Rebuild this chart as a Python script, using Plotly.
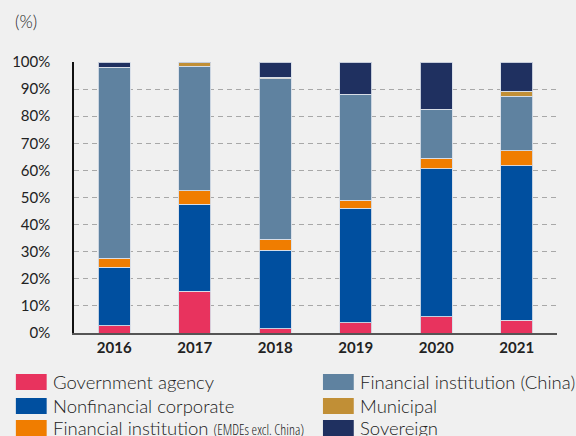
import plotly.graph_objects as go

years = ["2016", "2017", "2018", "2019", "2020", "2021"]
gov_agency = [2.7, 15.5, 1.6, 3.8, 6.0, 4.7]
nonfin_corp = [21.6, 32.0, 28.9, 42.3, 54.7, 57.0]
fi_emde = [3.3, 5.0, 4.1, 2.9, 3.8, 5.5]
fi_china = [70.2, 46.0, 59.2, 38.9, 17.9, 20.1]
municipal = [0.3, 1.2, 0.5, 0.2, 0.2, 2.0]
sovereign = [1.9, 0.3, 5.7, 11.9, 17.4, 10.7]
y_ticks = [0, 10, 20, 30, 40, 50, 60, 70, 80, 90, 100]
y_tick_labels = [f"{v}%" for v in y_ticks]

series = [
    ("Government agency", gov_agency, "#E8335E"),
    ("Nonfinancial corporate", nonfin_corp, "#004F9F"),
    ("Financial institution (EMDEs excl. China)", fi_emde, "#F07D00"),
    ("Financial institution (China)", fi_china, "#5F82A0"),
    ("Municipal", municipal, "#C18F36"),
    ("Sovereign", sovereign, "#1F3060"),
]

FONT = "Lato"
fig = go.Figure()
for name, vals, col in series:
    fig.add_trace(go.Bar(
        x=years, y=vals, name=name, marker_color=col,
        marker_line=dict(color="rgba(215,222,232,0.9)", width=1),
        showlegend=False,
    ))

fig.update_layout(
    barmode="stack", bargap=0.6,
    width=576, height=436,
    margin=dict(l=71.5, r=18.5, t=62, b=103),
    paper_bgcolor="#F0F0F0", plot_bgcolor="#F0F0F0",
    font=dict(family=FONT, color="#222222"),
    xaxis=dict(
        showline=True, linecolor="#555555", linewidth=2,
        tickfont=dict(size=15, color="#222222", weight="bold"),
        ticks="", showgrid=False, range=[-0.5, 5.5],
    ),
    yaxis=dict(
        range=[0, 100], tickvals=y_ticks, ticktext=y_tick_labels,
        showline=True, linecolor="#111111", linewidth=1.5,
        showgrid=True, gridcolor="#A8A8A8", griddash="5px,4px", gridwidth=1,
        zeroline=False, ticks="", ticklabelstandoff=19,
        tickfont=dict(size=15, color="#222222"),
    ),
)

fig.add_annotation(
    text="(%)", xref="paper", yref="paper", x=-61/486, y=1 + 41/271,
    xanchor="left", yanchor="middle", showarrow=False,
    font=dict(size=17, color="#222222", family=FONT, weight=300),
)

# Legend drawn as swatches + text, two columns
legend_layout = [
    (0, 0, 0), (1, 0, 1), (2, 0, 2),
    (3, 1, 0), (4, 1, 1), (5, 1, 2),
]
col_x = [13, 322]
row_y = [382, 406, 428]
plot_l, plot_w, plot_t, plot_h = 71.5, 486, 62, 271
for idx, c, r in legend_layout:
    name, _, colr = series[idx]
    x0 = (col_x[c] - plot_l) / plot_w
    x1 = (col_x[c] + 31 - plot_l) / plot_w
    yc = row_y[r]
    y0 = 1 - (yc + 8 - plot_t) / plot_h
    y1 = 1 - (yc - 8 - plot_t) / plot_h
    fig.add_shape(type="rect", xref="paper", yref="paper",
                  x0=x0, x1=x1, y0=y0, y1=y1,
                  fillcolor=colr, line_width=0)
    if "(EMDEs" in name:
        label = ("Financial institution "
                 "<span style=\"font-size:14px;font-family:'Open Sans';"
                 "font-stretch:75%;font-weight:300\">(EMDEs excl. China)</span>")
    else:
        label = name
    fig.add_annotation(
        text=label, xref="paper", yref="paper",
        x=(col_x[c] + 35 - plot_l) / plot_w, y=1 - (yc - plot_t) / plot_h,
        xanchor="left", yanchor="middle", showarrow=False,
        font=dict(size=18.5, color="#222222", family=FONT, weight=300),
    )

fig.write_html("out.html", config={"displayModeBar": False},
               post_script="document.body.style.margin='0';")
